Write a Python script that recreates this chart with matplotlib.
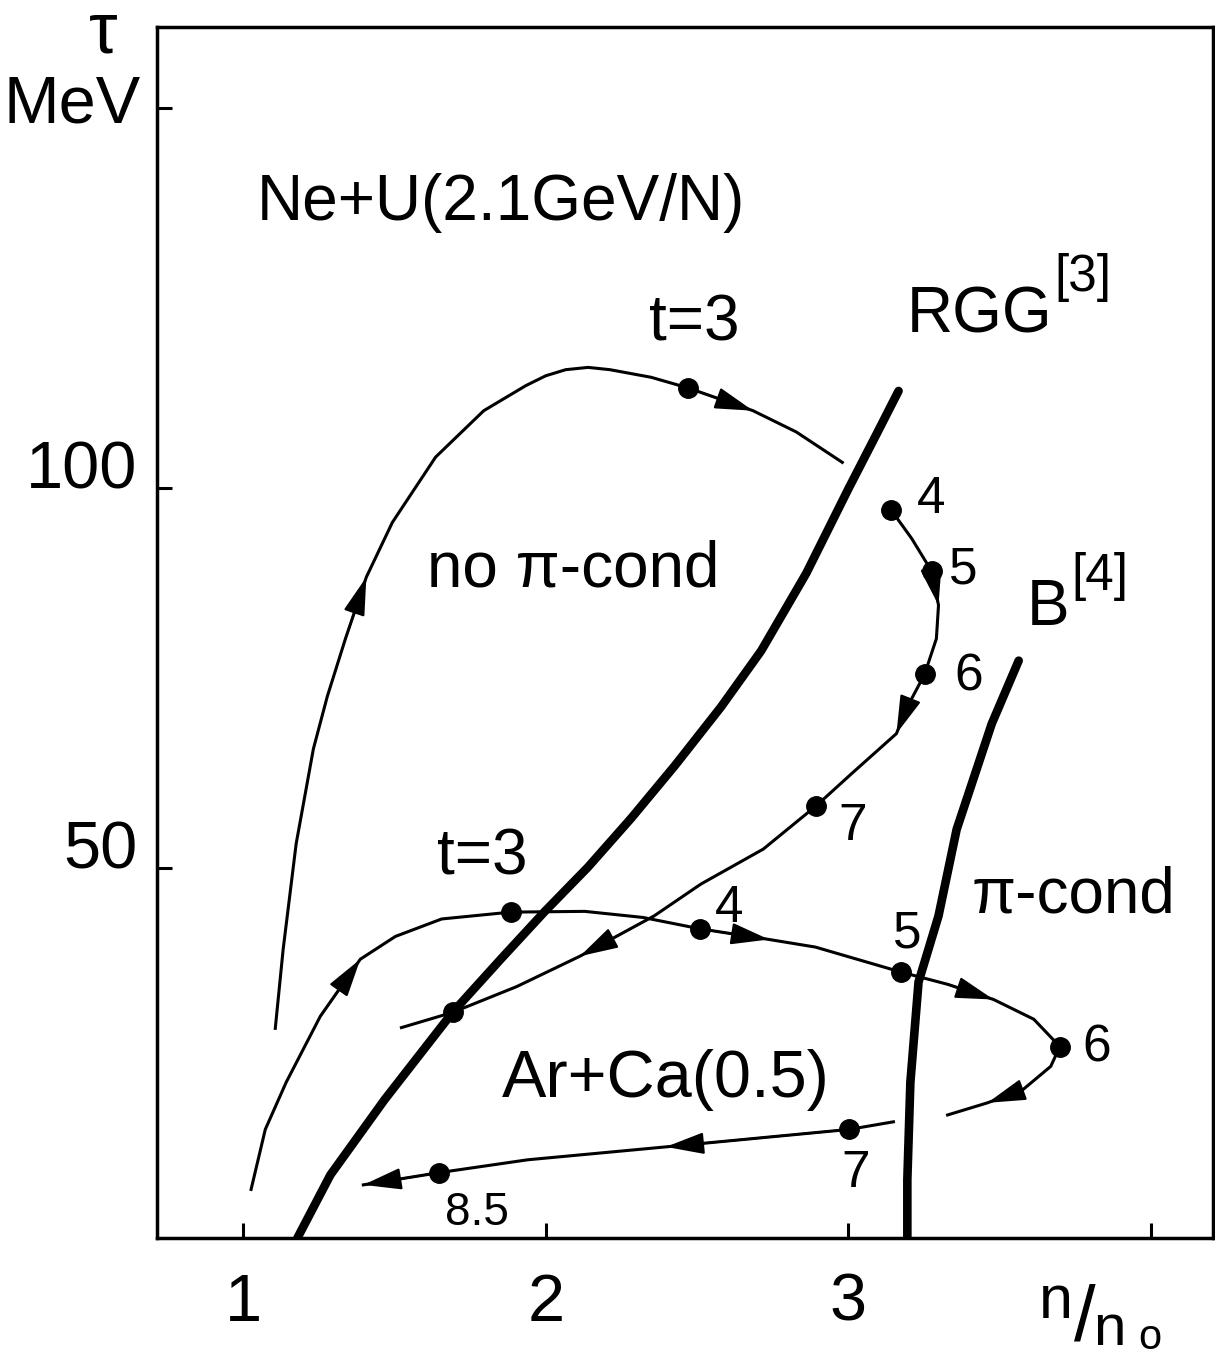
import matplotlib
matplotlib.use("Agg")
import matplotlib.pyplot as plt

plt.rcParams['font.family'] = ['Liberation Sans', 'DejaVu Sans']
plt.rcParams['mathtext.default'] = 'regular'

# Ne+U (2.1 GeV/N) trajectory, first part (rising, t up to 3)
neu_x = [1.106, 1.132, 1.175, 1.232, 1.278, 1.338, 1.407, 1.493, 1.636, 1.795,
         1.934, 2.000, 2.066, 2.140, 2.212, 2.348, 2.470, 2.685, 2.828, 2.980]
neu_y = [28.9, 39.3, 53.2, 65.7, 72.6, 80.2, 88.3, 95.5, 104.1, 110.2,
         113.5, 114.8, 115.6, 115.9, 115.6, 114.6, 113.2, 110.2, 107.4, 103.4]

# Ne+U trajectory, later part (t = 4 ... )
neu2_x = [3.142, 3.209, 3.275, 3.298, 3.291, 3.252, 3.192, 3.159, 3.010, 2.894,
          2.719, 2.513, 2.358, 2.113, 1.904, 1.692, 1.523]
neu2_y = [97.1, 93.4, 89.1, 84.6, 80.2, 75.5, 71.0, 67.7, 62.4, 58.2,
          52.5, 47.9, 43.7, 38.4, 34.4, 31.0, 29.0]

# Ar+Ca (0.5) trajectory
arca_x = [1.026, 1.073, 1.142, 1.255, 1.387, 1.503, 1.656, 1.884, 2.129, 2.321,
          2.510, 2.738, 2.891, 3.175, 3.328, 3.480, 3.613, 3.699, 3.669, 3.576,
          3.460, 3.328]
arca_y = [7.7, 15.6, 21.8, 30.5, 38.0, 41.0, 43.3, 44.2, 44.3, 43.5,
          42.0, 40.6, 39.6, 36.3, 34.7, 32.7, 30.1, 26.5, 23.9, 20.8,
          19.1, 17.5]
arca2_x = [3.149, 3.003, 2.397, 1.940, 1.646, 1.397]
arca2_y = [16.6, 15.6, 13.3, 11.6, 9.9, 8.3]

# pion condensation boundaries
rgg_x = [1.179, 1.288, 1.467, 1.692, 1.851, 1.997, 2.139, 2.281, 2.427, 2.579,
         2.712, 2.861, 3.000, 3.093, 3.166]
rgg_y = [1.3, 9.6, 19.5, 31.0, 38.0, 44.3, 50.1, 56.5, 63.5, 71.2,
         78.6, 88.8, 99.9, 107.1, 112.8]
b_x = [3.563, 3.474, 3.358, 3.298, 3.232, 3.205, 3.195, 3.195]
b_y = [77.3, 69.0, 55.1, 43.7, 35.0, 21.8, 9.0, 1.3]

# time marks (dots) and their labels
neu_dot_x = [2.470, 3.142, 3.275, 3.252, 2.894, 1.692]
neu_dot_y = [113.2, 97.1, 89.1, 75.5, 58.2, 31.0]
arca_dot_x = [1.884, 2.510, 3.175, 3.699, 3.003, 1.646]
arca_dot_y = [44.2, 42.0, 36.3, 26.5, 15.6, 9.9]

neu_lab = ['4', '5', '6', '7']
neu_lab_x = [3.225, 3.334, 3.351, 2.967]
neu_lab_y = [96.8, 87.5, 73.4, 53.7]
arca_lab = ['4', '5', '6', '7', '8.5']
arca_lab_x = [2.560, 3.149, 3.775, 2.977, 1.666]
arca_lab_y = [42.9, 39.6, 24.5, 8.0, 3.0]

# arrow heads: index of point on each curve (head points from i-1 to i)
neu_arrows = [6, 17]
neu2_arrows = [3, 7, 13]
arca_arrows = [4, 11, 15, 20]
arca2_arrows = [2, 5]

fig = plt.figure(figsize=(12.15, 13.59), dpi=100)
ax = fig.add_axes([0.1292, 0.0890, 0.8691, 0.8911])
ax.set_xlim(0.715, 4.205)
ax.set_ylim(1.3, 160.7)

thin = 2.2
thick = 6.2
ax.plot(neu_x, neu_y, 'k-', lw=thin, solid_joinstyle='round')
ax.plot(neu2_x, neu2_y, 'k-', lw=thin, solid_joinstyle='round')
ax.plot(arca_x, arca_y, 'k-', lw=thin, solid_joinstyle='round')
ax.plot(arca2_x, arca2_y, 'k-', lw=thin, solid_joinstyle='round')
ax.plot(rgg_x, rgg_y, 'k-', lw=thick, solid_joinstyle='round', solid_capstyle='round')
ax.plot(b_x, b_y, 'k-', lw=thick, solid_joinstyle='round', solid_capstyle='round')

ax.plot(neu_dot_x, neu_dot_y, 'ko', ms=14, ls='none')
ax.plot(arca_dot_x, arca_dot_y, 'ko', ms=14, ls='none')


def heads(xs, ys, idx):
    for i in idx:
        ax.annotate('', xy=(xs[i], ys[i]), xytext=(xs[i - 1], ys[i - 1]),
                    arrowprops=dict(arrowstyle='-|>,head_length=0.6,head_width=0.17',
                                    color='k', lw=1.5, mutation_scale=40,
                                    shrinkA=0, shrinkB=0))


heads(neu_x, neu_y, neu_arrows)
heads(neu2_x, neu2_y, neu2_arrows)
heads(arca_x, arca_y, arca_arrows)
heads(arca2_x, arca2_y, arca2_arrows)

for s, x, y in zip(neu_lab, neu_lab_x, neu_lab_y):
    ax.text(x, y, s, fontsize=37)
for s, x, y in zip(arca_lab, arca_lab_x, arca_lab_y):
    ax.text(x, y, s, fontsize=37 if s != '8.5' else 33)

big = 46
ax.text(1.046, 135.3, 'Ne+U(2.1GeV/N)', fontsize=big)
ax.text(2.341, 119.5, 't=3', fontsize=big)
ax.text(3.192, 120.5, 'RGG', fontsize=big)
ax.text(3.680, 126.0, '[3]', fontsize=37)
ax.text(1.606, 87.1, 'no π-cond', fontsize=big)
ax.text(3.589, 82.0, 'B', fontsize=big)
ax.text(3.738, 86.6, '[4]', fontsize=37)
ax.text(3.407, 44.2, 'π-cond', fontsize=big)
ax.text(1.642, 49.1, 't=3', fontsize=big)
ax.text(1.854, 19.9, 'Ar+Ca(0.5)', fontsize=48)

for sp in ax.spines.values():
    sp.set_linewidth(2.5)

ax.set_xticks([1, 2, 3, 4])
ax.set_xticklabels(['1', '2', '3', ''])
ax.set_yticks([50, 100, 150])
ax.set_yticklabels(['50', '100', ''])
ax.tick_params(direction='in', length=11, width=2.2, labelsize=48)
ax.tick_params(axis='x', pad=25)
ax.tick_params(axis='y', pad=14)
for lab in ax.get_yticklabels():
    lab.set_verticalalignment('baseline')

# axis titles
fig.text(0.0597, 0.910, 'MeV', fontsize=48, ha='center', va='baseline')
fig.text(0.0848, 0.9617, 'τ', fontsize=52, ha='center', va='baseline')
fig.text(0.855, 0.0300, 'n', fontsize=44, ha='left', va='baseline')
fig.text(0.884, 0.0135, '/', fontsize=56, ha='left', va='baseline')
fig.text(0.8996, 0.0105, 'n', fontsize=42, ha='left', va='baseline')
fig.text(0.937, 0.0075, 'o', fontsize=30, ha='left', va='baseline')

fig.savefig('out.png', dpi=100)
